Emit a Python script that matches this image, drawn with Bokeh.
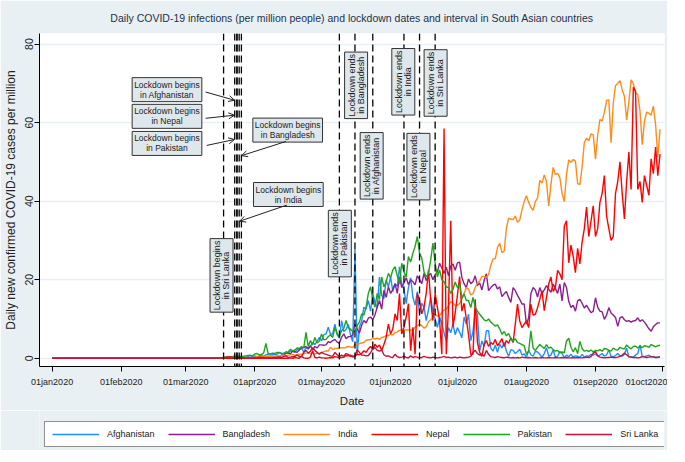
import math
import pandas as pd
from bokeh.plotting import figure
from bokeh.layouts import column
from bokeh.models import (Range1d, FixedTicker, Span, Label, Arrow, OpenHead,
                          Legend, LegendItem, ColumnDataSource)
from bokeh.embed import file_html
from bokeh.resources import INLINE

# ---------------- data (daily new confirmed cases per million) ----------------
START = "2020-01-01"
END = "2020-09-30"
LEAD_ZERO_DAYS = 60   # 01jan2020 .. 29feb2020: all series at 0

# values from 01mar2020 (day 60) to 30sep2020 (day 273), rows of 10 days
afghanistan = [
    0, 0, 0, 0, 0, 0, 0, 0, 0, 0,
    0, 0, 0, 0, 0, 0, 0.05, 0, 0.1, 0.05,
    0.1, 0.2, 0.1, 0.3, 0.2, 0.3, 0.3, 0.2, 0.4, 0.3,
    0.5, 0.6, 0.4, 0.6, 0.7, 0.5, 0.9, 1.0, 0.8, 0.9,
    1.0, 1.0, 1.5, 1.3, 0.8, 1.7, 1.2, 1.9, 1.7, 1.5,
    2.2, 2.3, 2.6, 1.6, 2.7, 2.3, 3.1, 4.0, 3.5, 4.3,
    5.3, 4.4, 6.0, 6.2, 7.9, 6.1, 6.2, 8.7, 6.0, 5.1,
    9.6, 6.8, 7.3, 8.6, 6.0, 4.2, 27.6, 1.0, 8.0, 9.4,
    13.0, 12.5, 14.7, 12.0, 16.5, 14.2, 12.8, 20.7, 16.0, 15.2,
    20.0, 18.2, 20.7, 17.0, 19.0, 18.3, 23.3, 19.0, 17.5, 13.9,
    18.0, 20.5, 15.6, 13.5, 17.0, 11.3, 14.0, 13.0, 9.6, 12.3,
    15.6, 12.0, 10.0, 7.9, 10.5, 8.8, 6.5, 4.5, 7.8, 6.5,
    8.7, 6.0, 7.8, 6.6, 5.2, 10.5, 8.7, 11.2, 4.5, 6.8,
    12.3, 11.2, 1.8, 4.4, 3.0, 7.0, 7.0, 2.6, 1.8, 3.3,
    1.5, 3.6, 2.6, 4.0, 1.8, 0.5, 2.2, 2.0, 1.2, 1.7,
    2.3, 0.8, 1.1, 0.2, 2.1, 0.9, 0.5, 1.8, 1.6, 1.0,
    0.2, 1.2, 2.7, 0.5, 0.8, 2.1, 0.3, 0.5, 1.7, 1.2,
    0.2, 0.8, 0.4, 1.0, 0.3, 0.6, 0.5, 0.2, 1.0, 0.3,
    0.6, 0.5, 1.0, 0.8, 1.1, 0.6, 0.8, 1.2, 0.5, 0.9,
    2.1, 0.5, 0.4, 0.7, 1.2, 0.6, 0.5, 1.0, 2.6, 0.3,
    0.4, 0.3, 0.8, 1.2, 3.4, 0.5, 0.4, 0.6, 0.8, 0.3,
    0.5, 0.2, 0.2, 0.3,
]
bangladesh = [
    0, 0, 0, 0, 0, 0, 0, 0, 0, 0,
    0, 0, 0, 0, 0, 0, 0, 0, 0, 0,
    0, 0, 0, 0, 0, 0, 0, 0, 0, 0,
    0, 0, 0, 0, 0, 0, 0, 0.1, 0.2, 0.2,
    0.3, 0.4, 0.4, 0.7, 0.8, 1.3, 1.3, 1.1, 1.9, 1.7,
    1.5, 2.1, 2.6, 2.8, 3.0, 2.5, 3.2, 2.1, 3.0, 2.6,
    3.4, 3.4, 3.3, 3.4, 4.2, 4.0, 4.5, 4.8, 4.1, 3.8,
    5.4, 6.2, 5.0, 5.5, 5.5, 6.0, 8.7, 7.5, 6.4, 8.4,
    9.6, 9.0, 10.2, 10.5, 9.8, 11.1, 13.0, 14.7, 12.5, 17.3,
    15.5, 18.2, 16.5, 17.5, 19.0, 16.5, 20.7, 18.0, 19.2, 20.5,
    18.8, 20.0, 19.5, 18.7, 21.0, 20.0, 19.0, 21.6, 19.8, 21.0,
    21.6, 20.0, 21.3, 22.0, 24.2, 23.0, 21.6, 23.2, 21.0, 23.5,
    24.0, 22.4, 24.3, 24.5, 20.6, 19.0, 18.0, 20.2, 19.0, 19.5,
    21.0, 18.5, 19.2, 17.4, 19.8, 21.5, 17.2, 18.0, 18.6, 18.9,
    17.6, 18.2, 15.7, 16.4, 17.0, 15.5, 14.2, 18.0, 17.2, 16.0,
    15.0, 13.8, 13.8, 8.7, 10.3, 16.4, 18.0, 17.4, 15.6, 18.0,
    16.5, 17.4, 18.5, 17.6, 16.8, 18.9, 17.8, 16.5, 18.9, 14.6,
    19.3, 18.0, 14.5, 12.9, 13.5, 12.0, 14.6, 15.0, 14.0, 12.8,
    13.5, 12.5, 11.6, 12.0, 15.4, 13.0, 12.0, 11.8, 9.9, 11.0,
    12.9, 11.5, 11.0, 10.4, 8.1, 10.3, 10.6, 9.8, 9.4, 9.6,
    9.2, 9.5, 9.6, 10.3, 9.4, 9.8, 9.2, 8.4, 7.5, 6.9,
    8.0, 8.6, 9.0, 9.0,
]
india = [
    0, 0, 0, 0, 0, 0, 0, 0, 0, 0,
    0, 0, 0, 0, 0, 0, 0, 0.02, 0.05, 0.05,
    0.06, 0.1, 0.07, 0.1, 0.07, 0.07, 0.1, 0.1, 0.12, 0.1,
    0.2, 0.3, 0.4, 0.35, 0.45, 0.4, 0.55, 0.5, 0.4, 0.6,
    0.55, 0.65, 0.6, 0.65, 0.8, 0.7, 0.75, 0.9, 1.0, 0.8,
    1.0, 1.05, 1.0, 1.1, 1.3, 1.3, 1.2, 1.4, 1.1, 1.3,
    1.25, 1.45, 1.7, 1.9, 1.8, 2.8, 2.2, 2.5, 2.5, 2.6,
    2.7, 2.6, 2.8, 3.0, 2.9, 2.7, 3.5, 3.6, 3.7, 3.9,
    4.0, 4.6, 4.7, 4.7, 5.1, 4.9, 5.1, 4.8, 5.3, 5.4,
    5.8, 5.8, 6.1, 5.9, 6.5, 6.7, 7.1, 7.2, 7.2, 7.2,
    7.2, 7.2, 7.2, 7.9, 8.3, 8.6, 8.3, 7.7, 8.0, 9.3,
    9.8, 10.5, 11.2, 10.7, 10.8, 11.6, 12.3, 12.5, 13.4, 14.4,
    14.1, 13.4, 13.5, 13.9, 15.1, 16.5, 18.0, 17.6, 16.1, 16.5,
    18.0, 19.2, 19.6, 20.8, 20.8, 20.7, 21.3, 23.7, 25.3, 25.3,
    28.2, 29.3, 26.9, 27.3, 33.1, 35.7, 35.4, 35.3, 36.2, 34.6,
    35.2, 37.8, 39.9, 41.4, 39.7, 38.4, 37.7, 39.9, 40.8, 45.3,
    44.6, 46.7, 45.0, 38.8, 44.2, 48.6, 46.8, 47.1, 46.0, 42.0,
    39.9, 46.8, 50.5, 49.9, 50.6, 50.2, 44.5, 44.2, 48.7, 54.9,
    56.0, 55.4, 57.1, 56.9, 50.7, 56.8, 60.8, 60.4, 62.6, 65.7,
    65.8, 54.9, 65.0, 69.4, 70.0, 70.7, 68.4, 66.7, 60.7, 65.3,
    70.9, 69.9, 67.6, 67.1, 63.0, 54.4, 60.4, 62.7, 62.4, 61.9,
    64.2, 59.5, 51.2, 58.3,
]
nepal = [
    0, 0, 0, 0, 0, 0, 0, 0, 0, 0,
    0, 0, 0, 0, 0, 0, 0, 0, 0, 0,
    0, 0, 0, 0, 0.03, 0, 0, 0, 0, 0,
    0, 0, 0, 0, 0, 0, 0, 0, 0, 0,
    0, 0, 0, 0, 0, 0, 0, 0.1, 0, 0.2,
    0.1, 0, 0.5, 0.1, 0, 0, 0.3, 1.9, 0.2, 0.1,
    0.3, 0.1, 0.1, 0.0, 0.1, 0.2, 0.1, 0.4, 0.3, 0.1,
    0.2, 0.3, 0.7, 0.6, 0.8, 0.3, 0.5, 1.0, 0.9, 1.2,
    1.9, 1.5, 2.4, 3.0, 2.2, 3.6, 2.8, 3.4, 2.0, 3.5,
    5.3, 8.7, 6.2, 7.5, 11.3, 9.6, 16.5, 6.2, 7.9, 10.5,
    13.9, 1.9, 7.9, 1.0, 16.5, 14.7, 11.3, 13.0, 16.5, 22.5,
    14.7, 9.6, 16.5, 13.0, 9.6, 1.0, 58.5, 1.0, 13.0, 35.0,
    8.0, 11.5, 16.0, 20.8, 12.0, 14.0, 10.0, 6.0, 1.0, 1.0,
    15.0, 4.0, 1.5, 0.5, 3.5, 4.5, 3.0, 4.0, 3.5, 4.8,
    3.2, 4.0, 5.0, 3.0, 4.5, 3.8, 5.2, 4.0, 8.7, 13.8,
    9.5, 7.8, 8.7, 9.5, 7.8, 13.8, 11.0, 11.2, 12.9, 15.0,
    17.2, 12.1, 15.5, 18.9, 20.7, 17.0, 18.0, 22.4, 21.5, 20.0,
    33.7, 35.0, 24.3, 28.8, 26.0, 21.8, 28.0, 24.0, 29.6, 33.0,
    38.5, 31.0, 35.0, 38.8, 31.0, 33.0, 39.7, 42.0, 46.5, 36.2,
    33.0, 30.0, 31.0, 42.0, 45.0, 50.0, 42.0, 35.5, 45.0, 52.5,
    43.0, 69.0, 68.0, 43.0, 45.0, 39.7, 46.5, 44.0, 41.5, 50.8,
    47.0, 53.8, 46.5, 52.0,
]
pakistan = [
    0, 0, 0, 0, 0, 0, 0, 0, 0, 0,
    0, 0, 0, 0, 0.02, 0.1, 0.15, 0.1, 0.3, 0.5,
    0.3, 0.4, 0.6, 0.5, 0.5, 0.4, 0.5, 0.6, 0.7, 0.8,
    0.6, 1.1, 1.2, 0.9, 1.0, 1.3, 3.8, 1.2, 1.1, 1.3,
    1.2, 1.5, 1.4, 1.1, 1.3, 1.5, 1.6, 2.3, 1.9, 2.1,
    2.6, 2.5, 3.0, 2.6, 6.6, 3.0, 4.5, 3.4, 5.3, 3.9,
    4.4, 6.2, 4.7, 4.8, 5.5, 6.0, 5.3, 7.9, 6.2, 5.6,
    7.0, 7.6, 9.6, 7.8, 7.4, 6.8, 7.0, 8.3, 9.2, 11.3,
    11.0, 13.0, 16.5, 18.2, 15.0, 13.0, 16.5, 15.0, 20.7, 18.2,
    19.5, 21.6, 20.5, 22.5, 23.3, 21.0, 19.0, 24.2, 22.0, 20.7,
    25.9, 24.5, 26.7, 28.5, 31.0, 26.7, 25.5, 22.0, 20.7, 21.6,
    25.0, 29.3, 24.2, 20.7, 22.5, 20.0, 19.5, 18.2, 18.0, 16.5,
    17.5, 19.4, 18.0, 18.9, 15.3, 16.4, 14.7, 14.7, 12.9, 15.5,
    13.0, 12.0, 11.2, 10.5, 9.8, 9.5, 10.0, 9.2, 8.7, 8.2,
    8.5, 7.5, 6.1, 6.8, 5.7, 6.3, 5.0, 4.4, 5.0, 4.0,
    3.8, 3.5, 3.2, 1.0, 1.8, 7.0, 2.6, 2.0, 2.8, 3.5,
    3.0, 2.5, 3.5, 2.6, 2.8, 2.2, 1.8, 2.0, 1.4, 1.6,
    1.4, 4.4, 5.1, 2.8, 1.6, 2.7, 1.2, 4.3, 2.5, 1.8,
    2.0, 1.7, 2.1, 1.6, 2.0, 1.9, 2.2, 1.8, 2.5, 2.4,
    2.0, 1.8, 2.6, 2.2, 2.1, 2.8, 2.5, 2.4, 3.4, 2.8,
    2.4, 3.0, 3.1, 2.6, 3.1, 2.7, 3.2, 3.1, 2.8, 3.5,
    3.2, 2.9, 3.2, 3.3,
]
sri_lanka = [
    0, 0, 0, 0, 0, 0, 0, 0, 0, 0,
    0, 0, 0, 0, 0, 0.1, 0.1, 0.2, 0.3, 0.2,
    0.4, 0.1, 0.3, 0.1, 0.1, 0.1, 0.05, 0.1, 0.1, 0.1,
    0.1, 0.2, 0.1, 0.3, 0.2, 0.2, 0.1, 0.2, 0.1, 0.2,
    0.2, 0.1, 0.3, 0.2, 0.4, 0.6, 0.2, 0.3, 0.4, 0.5,
    0.8, 0.5, 0.4, 1.5, 2.0, 1.3, 1.8, 2.7, 2.0, 1.5,
    1.0, 1.5, 1.2, 1.0, 0.8, 0.6, 0.5, 1.5, 0.9, 0.4,
    0.8, 0.5, 1.2, 1.0, 0.4, 0.6, 0.4, 2.2, 1.5, 0.8,
    0.8, 0.6, 0.7, 1.4, 2.4, 2.7, 2.0, 1.8, 2.1, 0.9,
    0.5, 0.6, 0.3, 0.2, 1.0, 0.4, 0.2, 0.3, 0.5, 0.2,
    0.1, 0.6, 0.2, 0.4, 0.3, 0.1, 0.2, 0.5, 0.3, 0.2,
    0.1, 0.3, 0.2, 0.1, 0.2, 0.3, 0.5, 0.2, 0.3, 0.1,
    0.2, 0.3, 0.1, 0.3, 0.2, 0.1, 0.2, 0.3, 0.5, 1.5,
    2.0, 1.2, 0.8, 1.0, 0.5, 2.0, 1.0, 0.4, 0.3, 0.2,
    0.4, 0.3, 0.2, 0.1, 0.3, 0.2, 0.1, 0.2, 0.1, 0.2,
    0.1, 0.3, 0.2, 0.1, 0.2, 0.1, 0.1, 0.2, 0.1, 0.1,
    0.2, 0.1, 0.1, 0.2, 0.1, 0.1, 0.2, 0.1, 0.1, 0.2,
    0.1, 0.2, 0.1, 0.1, 0.2, 0.1, 0.2, 0.1, 0.1, 0.2,
    0.3, 0.2, 0.4, 1.3, 1.7, 0.6, 0.3, 0.2, 0.1, 0.2,
    0.2, 0.3, 0.2, 0.2, 0.3, 0.5, 0.8, 1.3, 0.9, 0.4,
    0.3, 0.2, 0.2, 0.1, 0.2, 0.4, 0.3, 0.2, 0.3, 0.4,
    0.3, 0.2, 0.3, 0.4,
]

COUNTRIES = ["Afghanistan", "Bangladesh", "India", "Nepal", "Pakistan", "Sri Lanka"]
SERIES = [afghanistan, bangladesh, india, nepal, pakistan, sri_lanka]
COLORS = ["#1f8fff", "#8b1f8f", "#ff8c1a", "#ff0000", "#1ea51e", "#c2133b"]

TICK_DATES = ["2020-01-01", "2020-02-01", "2020-03-01", "2020-04-01", "2020-05-01",
              "2020-06-01", "2020-07-01", "2020-08-01", "2020-09-01", "2020-10-01"]
TICK_LABELS = ["01jan2020", "01feb2020", "01mar2020", "01apr2020", "01may2020",
               "01jun2020", "01jul2020", "01aug2020", "01sep2020", "01oct2020"]
Y_TICKS = [0, 20, 40, 60, 80]

LOCKDOWN_BEGINS = {"Sri Lanka": "2020-03-18", "Afghanistan": "2020-03-23",
                   "Nepal": "2020-03-24", "Pakistan": "2020-03-24",
                   "India": "2020-03-25", "Bangladesh": "2020-03-26"}
LOCKDOWN_ENDS = {"Pakistan": "2020-05-09", "Bangladesh": "2020-05-16",
                 "Afghanistan": "2020-05-24", "India": "2020-06-07",
                 "Nepal": "2020-06-14", "Sri Lanka": "2020-06-21"}


def ms(d):
    return pd.Timestamp(d).value / 1e6


dates = pd.date_range(START, END, freq="D")
data = {"date": dates}
for name, vals in zip(COUNTRIES, SERIES):
    data[name] = [0.0] * LEAD_ZERO_DAYS + vals
src = ColumnDataSource(pd.DataFrame(data))

BG = "#e9f0f3"
FONT = "Liberation Sans"
TXT = "#222222"

p = figure(width=667, height=410, x_axis_type="datetime",
           output_backend="svg", toolbar_location=None,
           x_range=Range1d(ms("2019-12-26 08:00"), ms("2020-10-02 00:00")),
           y_range=Range1d(-2.1, 82.7),
           min_border_left=36, min_border_right=3, min_border_top=29,
           min_border_bottom=44)
p.background_fill_color = "white"
p.border_fill_color = BG
p.outline_line_color = None

p.title.text = ("Daily COVID-19 infections (per million people) and lockdown dates "
                "and interval in South Asian countries")
p.title.align = "center"
p.title.text_font = FONT
p.title.text_font_size = "10.5px"
p.title.text_font_style = "normal"
p.title.text_color = "#1d3049"
p.title.standoff = 19

# axes
p.xaxis.ticker = FixedTicker(ticks=[ms(d) for d in TICK_DATES])
p.xaxis.major_label_overrides = {ms(d): lab for d, lab in zip(TICK_DATES, TICK_LABELS)}
p.xaxis.axis_label = "Date"
p.yaxis.ticker = FixedTicker(ticks=Y_TICKS)
p.yaxis.axis_label = "Daily new confirmed COVID-19 cases per million"
p.yaxis.major_label_orientation = "vertical"
for ax in (p.xaxis, p.yaxis):
    ax.axis_line_color = "black"
    ax.major_tick_line_color = "black"
    ax.major_tick_out = 5
    ax.major_tick_in = 0
    ax.minor_tick_line_color = None
    ax.major_label_text_color = TXT
    ax.axis_label_text_color = TXT
    ax.axis_label_text_font_style = "normal"
    ax.major_label_text_font = FONT
    ax.axis_label_text_font = FONT
p.xaxis.major_label_text_font_size = "9px"
p.xaxis.axis_label_text_font_size = "11.5px"
p.xaxis.major_label_standoff = 5
p.xaxis.axis_label_standoff = 5
p.yaxis.major_label_text_font_size = "10.5px"
p.yaxis.axis_label_text_font_size = "12px"
p.yaxis.major_label_standoff = 1
p.yaxis.axis_label_standoff = 5

p.xgrid.visible = False
p.ygrid.ticker = FixedTicker(ticks=Y_TICKS)
p.ygrid.grid_line_color = BG
p.ygrid.grid_line_width = 1.5

# lockdown date lines
for d in list(LOCKDOWN_BEGINS.values()) + list(LOCKDOWN_ENDS.values()):
    p.add_layout(Span(location=ms(d), dimension="height", line_color="black",
                      line_width=1.3, line_dash="7 4"))

# series
for name, col in zip(COUNTRIES, COLORS):
    p.line(x="date", y=name, source=src, line_color=col, line_width=1.4)

BOX_FILL = "#dde7ec"

# horizontal annotation boxes  (text, x date, y value)
H_BOXES = [
    ("Lockdown begins\nin Afghanistan", "2020-02-21 14:00", 68.4),
    ("Lockdown begins\nin Nepal", "2020-02-21 14:00", 61.6),
    ("Lockdown begins\nin Pakistan", "2020-02-21 14:00", 54.7),
    ("Lockdown begins\nin Bangladesh", "2020-04-15 19:00", 58.1),
    ("Lockdown begins\nin India", "2020-04-16 02:00", 41.7),
]
for txt, xd, yv in H_BOXES:
    p.add_layout(Label(x=ms(xd), y=yv, text=txt, text_align="center",
                       text_baseline="middle", text_font=FONT,
                       text_font_size="8.5px", text_color=TXT,
                       text_line_height=1.0,
                       background_fill_color=BOX_FILL, border_line_color="#333333",
                       border_line_width=1, padding=2))

# vertical annotation boxes
V_BOXES = [
    ("Lockdown begins\nin Sri Lanka", "2020-03-17 02:00", 21.1),
    ("Lockdown ends\nin Pakistan", "2020-05-09 05:00", 29.2),
    ("Lockdown ends\nin Bangladesh", "2020-05-16 12:00", 69.5),
    ("Lockdown ends\nin Afghanistan", "2020-05-23 12:00", 49.0),
    ("Lockdown ends\nin India", "2020-06-06 17:00", 70.4),
    ("Lockdown ends\nin Nepal", "2020-06-13 12:00", 48.8),
    ("Lockdown ends\nin Sri Lanka", "2020-06-21 05:00", 70.1),
]
for txt, xd, yv in V_BOXES:
    p.add_layout(Label(x=ms(xd), y=yv, text=txt, text_align="center",
                       text_baseline="middle", text_font=FONT,
                       text_font_size="9px", text_color=TXT,
                       text_line_height=0.9, angle=math.pi / 2,
                       background_fill_color=BOX_FILL, border_line_color="#333333",
                       border_line_width=1, padding=2))

# arrows (start date, start value, end date, end value)
ARROWS = [
    ("2020-03-09 22:00", 67.8, "2020-03-22 22:00", 65.7),
    ("2020-03-09 22:00", 61.1, "2020-03-22 22:00", 61.9),
    ("2020-03-10 10:00", 54.2, "2020-03-22 22:00", 55.7),
    ("2020-04-15 00:00", 55.2, "2020-03-26 02:00", 51.6),
    ("2020-04-15 10:00", 39.0, "2020-03-25 05:00", 34.9),
]
for xs, ys, xe, ye in ARROWS:
    p.add_layout(Arrow(x_start=ms(xs), y_start=ys, x_end=ms(xe), y_end=ye,
                       line_color="#222222", line_width=1,
                       end=OpenHead(size=6, line_color="#222222", line_width=1)))

# ---------------- legend strip below the chart ----------------
# same series drawn (outside this strip's visible range) so the legend
# samples use the series' own line styles
lg = figure(width=667, height=40, output_backend="svg", toolbar_location=None,
            x_range=Range1d(0, 1), y_range=Range1d(0, 1),
            x_axis_location=None, y_axis_location=None,
            min_border_left=0, min_border_right=0, min_border_top=0,
            min_border_bottom=0)
lg.xgrid.visible = False
lg.ygrid.visible = False
lg.outline_line_color = None
lg.background_fill_color = BG
lg.border_fill_color = BG
legend_items = []
for name, col in zip(COUNTRIES, COLORS):
    r = lg.line(x="date", y=name, source=src, line_color=col, line_width=1.4)
    legend_items.append(LegendItem(label=name, renderers=[r]))
legend = Legend(items=legend_items, orientation="horizontal", location=(5, 3),
                label_text_font=FONT, label_text_font_size="9px",
                label_text_color=TXT, glyph_width=47, glyph_height=10,
                label_standoff=8, spacing=13, padding=7, margin=0)
legend.border_line_color = "#222222"
legend.background_fill_color = "white"
lg.add_layout(legend)

layout = column(p, lg, spacing=0)
open("out.html", "w").write(file_html(layout, INLINE))
